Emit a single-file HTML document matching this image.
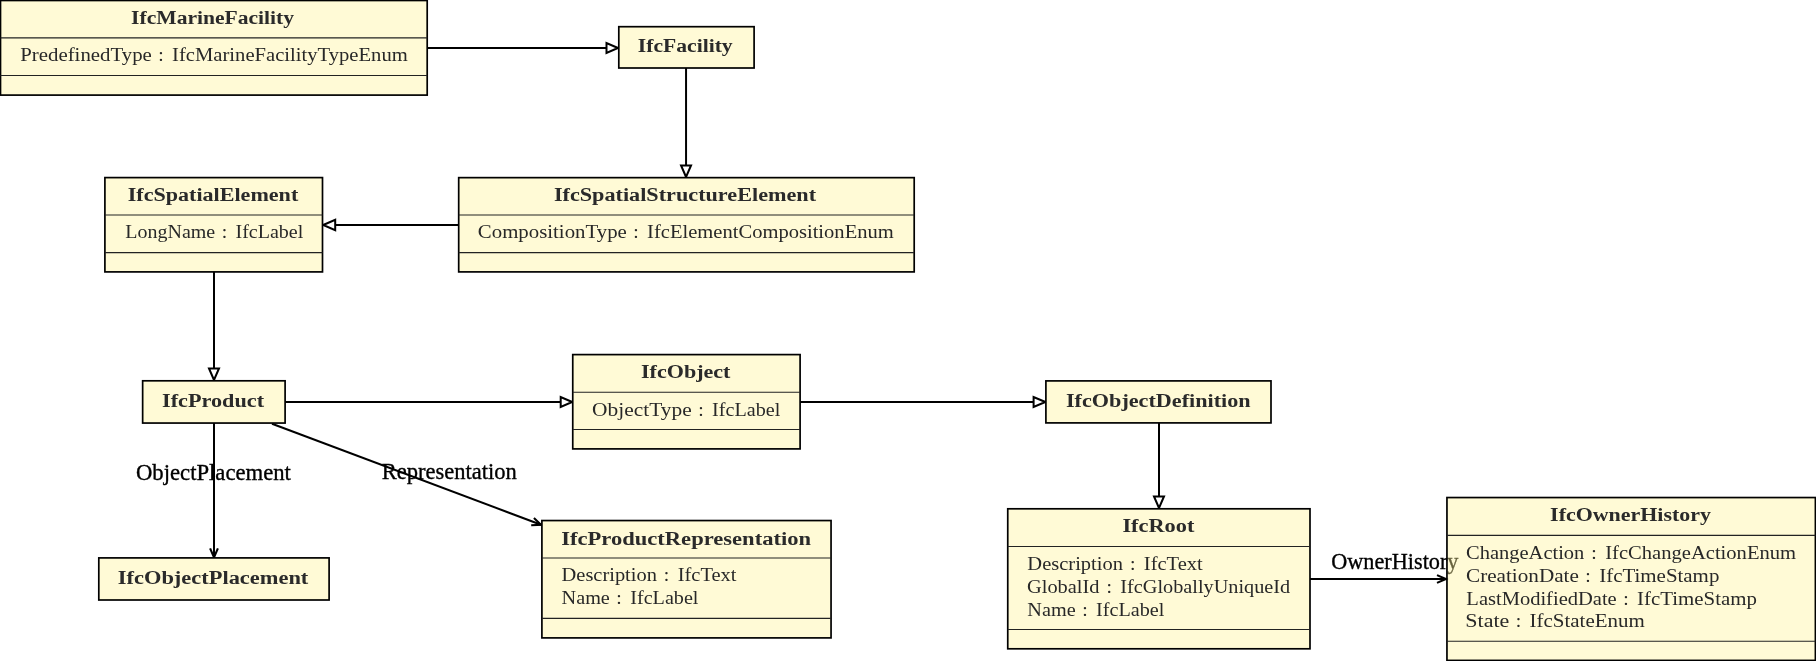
<!DOCTYPE html>
<html><head><meta charset="utf-8"><title>IFC UML diagram</title><style>html,body{margin:0;padding:0;background:#fff;width:1816px;height:661px;overflow:hidden}svg{display:block;will-change:transform}text{font-family:"Liberation Serif",serif}</style></head><body>
<svg width="1816" height="661" viewBox="0 0 1816 661">
<line x1="427.20" y1="48.00" x2="606.50" y2="48.00" stroke="#000" stroke-width="2.0"/>
<polygon points="618.00,48.00 606.50,43.00 606.50,53.00" fill="#fff" stroke="#000" stroke-width="2.0"/>
<line x1="686.05" y1="68.00" x2="686.05" y2="165.40" stroke="#000" stroke-width="2.0"/>
<polygon points="686.05,177.00 681.05,165.40 691.05,165.40" fill="#fff" stroke="#000" stroke-width="2.0"/>
<line x1="458.70" y1="225.00" x2="335.20" y2="225.00" stroke="#000" stroke-width="2.0"/>
<polygon points="323.20,225.00 335.20,219.80 335.20,230.20" fill="#fff" stroke="#000" stroke-width="2.0"/>
<line x1="214.00" y1="271.90" x2="214.00" y2="368.50" stroke="#000" stroke-width="2.0"/>
<polygon points="214.00,380.00 209.00,368.50 219.00,368.50" fill="#fff" stroke="#000" stroke-width="2.0"/>
<line x1="285.10" y1="402.00" x2="560.70" y2="402.00" stroke="#000" stroke-width="2.0"/>
<polygon points="572.20,402.00 560.70,397.00 560.70,407.00" fill="#fff" stroke="#000" stroke-width="2.0"/>
<line x1="800.10" y1="402.00" x2="1033.60" y2="402.00" stroke="#000" stroke-width="2.0"/>
<polygon points="1045.40,402.00 1033.60,397.00 1033.60,407.00" fill="#fff" stroke="#000" stroke-width="2.0"/>
<line x1="1159.00" y1="423.00" x2="1159.00" y2="496.50" stroke="#000" stroke-width="2.0"/>
<polygon points="1159.00,508.00 1154.00,496.50 1164.00,496.50" fill="#fff" stroke="#000" stroke-width="2.0"/>
<line x1="214.00" y1="423.00" x2="214.00" y2="557.30" stroke="#000" stroke-width="2.0"/>
<polyline points="217.90,548.30 214,557.3 210.10,548.30" fill="none" stroke="#000" stroke-width="2.1"/>
<line x1="272.00" y1="423.80" x2="541.00" y2="524.70" stroke="#000" stroke-width="2.0"/>
<polyline points="533.94,517.89 541.0,524.7 531.20,525.19" fill="none" stroke="#000" stroke-width="2.1"/>
<line x1="1310.00" y1="579.00" x2="1446.00" y2="579.00" stroke="#000" stroke-width="2.0"/>
<polyline points="1437.00,575.10 1446.0,579.0 1437.00,582.90" fill="none" stroke="#000" stroke-width="2.1"/>
<text x="135.99" y="479.7" font-size="22.8" fill="#000" stroke="#000" stroke-width="0.35" textLength="154.93" lengthAdjust="spacingAndGlyphs">ObjectPlacement</text>
<text x="381.75" y="479.3" font-size="22.8" fill="#000" stroke="#000" stroke-width="0.35" textLength="134.95" lengthAdjust="spacingAndGlyphs">Representation</text>
<text x="1331.20" y="568.8" font-size="22.8" fill="#000" stroke="#000" stroke-width="0.35" textLength="127.30" lengthAdjust="spacingAndGlyphs">OwnerHistory</text>
<rect x="0.5" y="0.5" width="426.70" height="94.60" fill="#FFFAD6" stroke="#000" stroke-width="1.7"/>
<line x1="0.5" y1="37.9" x2="427.2" y2="37.9" stroke="#222" stroke-width="1.15"/>
<line x1="0.5" y1="75.45" x2="427.2" y2="75.45" stroke="#222" stroke-width="1.15"/>
<rect x="618.8" y="26.7" width="135.30" height="41.30" fill="#FFFAD6" stroke="#000" stroke-width="1.7"/>
<rect x="104.9" y="177.6" width="217.60" height="94.30" fill="#FFFAD6" stroke="#000" stroke-width="1.7"/>
<line x1="104.9" y1="215.0" x2="322.5" y2="215.0" stroke="#222" stroke-width="1.15"/>
<line x1="104.9" y1="252.6" x2="322.5" y2="252.6" stroke="#222" stroke-width="1.15"/>
<rect x="458.7" y="177.65" width="455.50" height="94.25" fill="#FFFAD6" stroke="#000" stroke-width="1.7"/>
<line x1="458.7" y1="215.0" x2="914.2" y2="215.0" stroke="#222" stroke-width="1.15"/>
<line x1="458.7" y1="252.6" x2="914.2" y2="252.6" stroke="#222" stroke-width="1.15"/>
<rect x="142.65" y="380.8" width="142.45" height="42.25" fill="#FFFAD6" stroke="#000" stroke-width="1.7"/>
<rect x="572.75" y="354.6" width="227.35" height="94.30" fill="#FFFAD6" stroke="#000" stroke-width="1.7"/>
<line x1="572.75" y1="392.25" x2="800.1" y2="392.25" stroke="#222" stroke-width="1.15"/>
<line x1="572.75" y1="429.45" x2="800.1" y2="429.45" stroke="#222" stroke-width="1.15"/>
<rect x="1045.9" y="380.9" width="225.10" height="42.00" fill="#FFFAD6" stroke="#000" stroke-width="1.7"/>
<rect x="98.8" y="557.9" width="230.30" height="42.10" fill="#FFFAD6" stroke="#000" stroke-width="1.7"/>
<rect x="541.9" y="520.55" width="289.15" height="117.35" fill="#FFFAD6" stroke="#000" stroke-width="1.7"/>
<line x1="541.9" y1="558.0" x2="831.05" y2="558.0" stroke="#222" stroke-width="1.15"/>
<line x1="541.9" y1="618.35" x2="831.05" y2="618.35" stroke="#222" stroke-width="1.15"/>
<rect x="1007.75" y="508.8" width="302.25" height="140.00" fill="#FFFAD6" stroke="#000" stroke-width="1.7"/>
<line x1="1007.75" y1="546.5" x2="1310.0" y2="546.5" stroke="#222" stroke-width="1.15"/>
<line x1="1007.75" y1="629.5" x2="1310.0" y2="629.5" stroke="#222" stroke-width="1.15"/>
<rect x="1446.95" y="497.55" width="368.45" height="162.85" fill="#FFF399" fill-opacity="0.4" stroke="#000" stroke-width="1.7"/>
<line x1="1446.95" y1="535.3" x2="1815.4" y2="535.3" stroke="#222" stroke-width="1.15"/>
<line x1="1446.95" y1="641.25" x2="1815.4" y2="641.25" stroke="#222" stroke-width="1.15"/>
<text x="131.13" y="24.2" font-size="19.6" font-weight="bold" fill="#2a2a2a" textLength="162.97" lengthAdjust="spacingAndGlyphs">IfcMarineFacility</text>
<text x="637.82" y="51.9" font-size="19.6" font-weight="bold" fill="#2a2a2a" textLength="94.88" lengthAdjust="spacingAndGlyphs">IfcFacility</text>
<text x="127.71" y="201.0" font-size="19.6" font-weight="bold" fill="#2a2a2a" textLength="170.55" lengthAdjust="spacingAndGlyphs">IfcSpatialElement</text>
<text x="553.91" y="201.0" font-size="19.6" font-weight="bold" fill="#2a2a2a" textLength="262.16" lengthAdjust="spacingAndGlyphs">IfcSpatialStructureElement</text>
<text x="162.01" y="407.0" font-size="19.6" font-weight="bold" fill="#2a2a2a" textLength="102.06" lengthAdjust="spacingAndGlyphs">IfcProduct</text>
<text x="641.01" y="378.3" font-size="19.6" font-weight="bold" fill="#2a2a2a" textLength="89.45" lengthAdjust="spacingAndGlyphs">IfcObject</text>
<text x="1066.01" y="407.2" font-size="19.6" font-weight="bold" fill="#2a2a2a" textLength="184.60" lengthAdjust="spacingAndGlyphs">IfcObjectDefinition</text>
<text x="117.80" y="583.7" font-size="19.6" font-weight="bold" fill="#2a2a2a" textLength="190.56" lengthAdjust="spacingAndGlyphs">IfcObjectPlacement</text>
<text x="561.19" y="544.5" font-size="19.6" font-weight="bold" fill="#2a2a2a" textLength="249.91" lengthAdjust="spacingAndGlyphs">IfcProductRepresentation</text>
<text x="1122.40" y="531.6" font-size="19.6" font-weight="bold" fill="#2a2a2a" textLength="71.96" lengthAdjust="spacingAndGlyphs">IfcRoot</text>
<text x="1550.11" y="521.1" font-size="19.6" font-weight="bold" fill="#2a2a2a" textLength="160.79" lengthAdjust="spacingAndGlyphs">IfcOwnerHistory</text>
<text x="20.27" y="60.9" font-size="19.6" fill="#282828" textLength="131.54" lengthAdjust="spacingAndGlyphs">PredefinedType</text>
<text x="158.27" y="60.9" font-size="19.6" fill="#282828" textLength="5.44" lengthAdjust="spacingAndGlyphs">:</text>
<text x="172.10" y="60.9" font-size="19.6" fill="#282828" textLength="235.65" lengthAdjust="spacingAndGlyphs">IfcMarineFacilityTypeEnum</text>
<text x="125.39" y="237.8" font-size="19.6" fill="#282828" textLength="89.83" lengthAdjust="spacingAndGlyphs">LongName</text>
<text x="221.69" y="237.8" font-size="19.6" fill="#282828" textLength="5.44" lengthAdjust="spacingAndGlyphs">:</text>
<text x="235.53" y="237.8" font-size="19.6" fill="#282828" textLength="67.81" lengthAdjust="spacingAndGlyphs">IfcLabel</text>
<text x="477.85" y="237.8" font-size="19.6" fill="#282828" textLength="148.98" lengthAdjust="spacingAndGlyphs">CompositionType</text>
<text x="633.29" y="237.8" font-size="19.6" fill="#282828" textLength="5.45" lengthAdjust="spacingAndGlyphs">:</text>
<text x="647.14" y="237.8" font-size="19.6" fill="#282828" textLength="246.61" lengthAdjust="spacingAndGlyphs">IfcElementCompositionEnum</text>
<text x="592.13" y="415.9" font-size="19.6" fill="#282828" textLength="99.61" lengthAdjust="spacingAndGlyphs">ObjectType</text>
<text x="698.21" y="415.9" font-size="19.6" fill="#282828" textLength="5.47" lengthAdjust="spacingAndGlyphs">:</text>
<text x="712.12" y="415.9" font-size="19.6" fill="#282828" textLength="68.13" lengthAdjust="spacingAndGlyphs">IfcLabel</text>
<text x="561.58" y="581.3" font-size="19.6" fill="#282828" textLength="95.34" lengthAdjust="spacingAndGlyphs">Description</text>
<text x="663.86" y="581.3" font-size="19.6" fill="#282828" textLength="5.46" lengthAdjust="spacingAndGlyphs">:</text>
<text x="677.73" y="581.3" font-size="19.6" fill="#282828" textLength="58.80" lengthAdjust="spacingAndGlyphs">IfcText</text>
<text x="561.58" y="603.9" font-size="19.6" fill="#282828" textLength="48.27" lengthAdjust="spacingAndGlyphs">Name</text>
<text x="616.36" y="603.9" font-size="19.6" fill="#282828" textLength="5.47" lengthAdjust="spacingAndGlyphs">:</text>
<text x="630.27" y="603.9" font-size="19.6" fill="#282828" textLength="68.17" lengthAdjust="spacingAndGlyphs">IfcLabel</text>
<text x="1027.38" y="570.1" font-size="19.6" fill="#282828" textLength="95.56" lengthAdjust="spacingAndGlyphs">Description</text>
<text x="1129.89" y="570.1" font-size="19.6" fill="#282828" textLength="5.47" lengthAdjust="spacingAndGlyphs">:</text>
<text x="1143.80" y="570.1" font-size="19.6" fill="#282828" textLength="58.93" lengthAdjust="spacingAndGlyphs">IfcText</text>
<text x="1027.06" y="592.8" font-size="19.6" fill="#282828" textLength="72.44" lengthAdjust="spacingAndGlyphs">GlobalId</text>
<text x="1106.45" y="592.8" font-size="19.6" fill="#282828" textLength="5.46" lengthAdjust="spacingAndGlyphs">:</text>
<text x="1120.34" y="592.8" font-size="19.6" fill="#282828" textLength="169.86" lengthAdjust="spacingAndGlyphs">IfcGloballyUniqueId</text>
<text x="1027.38" y="615.7" font-size="19.6" fill="#282828" textLength="48.31" lengthAdjust="spacingAndGlyphs">Name</text>
<text x="1082.20" y="615.7" font-size="19.6" fill="#282828" textLength="5.47" lengthAdjust="spacingAndGlyphs">:</text>
<text x="1096.13" y="615.7" font-size="19.6" fill="#282828" textLength="68.22" lengthAdjust="spacingAndGlyphs">IfcLabel</text>
<text x="1466.06" y="559.4" font-size="19.6" fill="#282828" textLength="118.31" lengthAdjust="spacingAndGlyphs">ChangeAction</text>
<text x="1591.33" y="559.4" font-size="19.6" fill="#282828" textLength="5.48" lengthAdjust="spacingAndGlyphs">:</text>
<text x="1605.26" y="559.4" font-size="19.6" fill="#282828" textLength="190.79" lengthAdjust="spacingAndGlyphs">IfcChangeActionEnum</text>
<text x="1466.04" y="581.9" font-size="19.6" fill="#282828" textLength="112.85" lengthAdjust="spacingAndGlyphs">CreationDate</text>
<text x="1585.37" y="581.9" font-size="19.6" fill="#282828" textLength="5.47" lengthAdjust="spacingAndGlyphs">:</text>
<text x="1599.27" y="581.9" font-size="19.6" fill="#282828" textLength="120.09" lengthAdjust="spacingAndGlyphs">IfcTimeStamp</text>
<text x="1466.38" y="604.5" font-size="19.6" fill="#282828" textLength="150.36" lengthAdjust="spacingAndGlyphs">LastModifiedDate</text>
<text x="1623.22" y="604.5" font-size="19.6" fill="#282828" textLength="5.46" lengthAdjust="spacingAndGlyphs">:</text>
<text x="1637.08" y="604.5" font-size="19.6" fill="#282828" textLength="119.77" lengthAdjust="spacingAndGlyphs">IfcTimeStamp</text>
<text x="1465.32" y="627.0" font-size="19.6" fill="#282828" textLength="43.99" lengthAdjust="spacingAndGlyphs">State</text>
<text x="1515.76" y="627.0" font-size="19.6" fill="#282828" textLength="5.45" lengthAdjust="spacingAndGlyphs">:</text>
<text x="1529.61" y="627.0" font-size="19.6" fill="#282828" textLength="115.05" lengthAdjust="spacingAndGlyphs">IfcStateEnum</text>
</svg></body></html>
